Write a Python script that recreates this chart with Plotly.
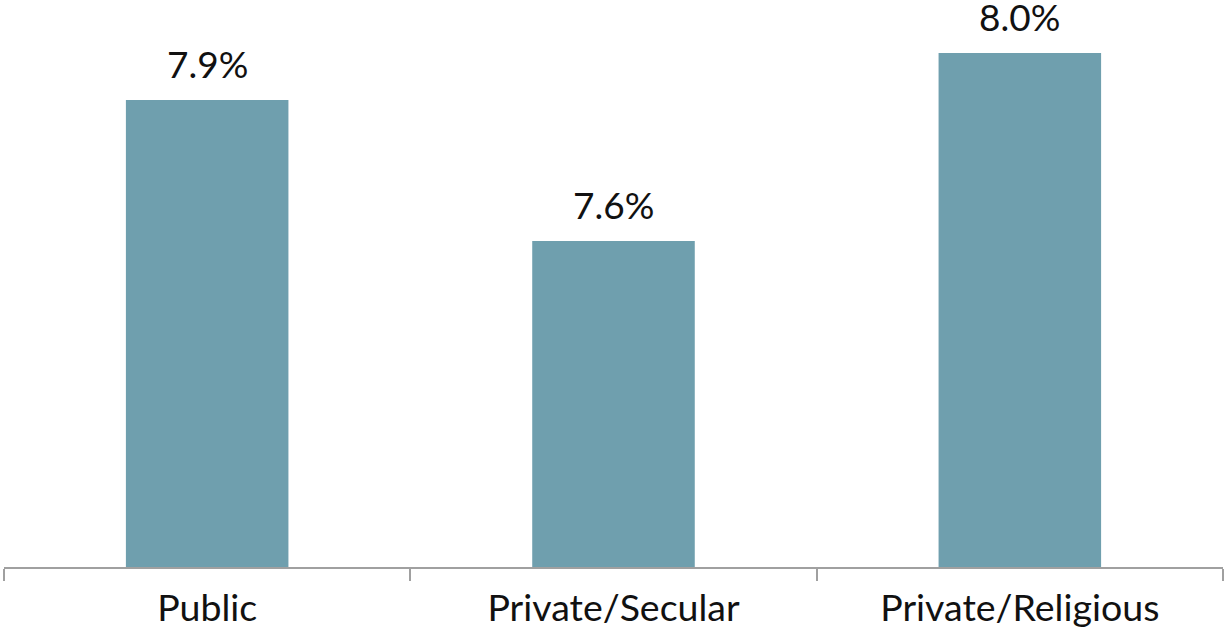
import plotly.graph_objects as go

categories = ["Public", "Private/Secular", "Private/Religious"]
values = [7.9, 7.6, 8.0]
labels = ["7.9%", "7.6%", "8.0%"]

BAR_COLOR = "#6f9fae"

fig = go.Figure(
    go.Bar(
        x=categories,
        y=values,
        marker=dict(color=BAR_COLOR, line=dict(width=0)),
        hoverinfo="skip",
    )
)

for c, v, t in zip(categories, values, labels):
    fig.add_annotation(
        x=c, y=v, text=t, showarrow=False, yanchor="bottom", yshift=12,
        font=dict(family="Lato", size=37, color="#111111"),
    )

fig.update_layout(
    width=1225,
    height=630,
    margin=dict(l=4, r=2, t=0, b=63, autoexpand=False),
    paper_bgcolor="white",
    plot_bgcolor="white",
    bargap=0.6,
    showlegend=False,
    font=dict(family="Lato", size=37, color="#111111"),
)
fig.update_xaxes(
    showline=True, linecolor="#a0a0a0", linewidth=2,
    ticks="outside", tickson="boundaries", ticklen=12, tickcolor="#a0a0a0", tickwidth=1.5,
    ticklabelstandoff=7,
    showgrid=False, tickfont=dict(family="Lato", size=37.5, color="#111111"),
)
fig.update_yaxes(
    range=[6.906, 8.113], visible=False, showgrid=False, zeroline=False,
)

fig.write_html(
    "out.html",
    config={"displayModeBar": False},
    post_script="document.body.style.margin='0';document.body.style.overflow='hidden';",
)
